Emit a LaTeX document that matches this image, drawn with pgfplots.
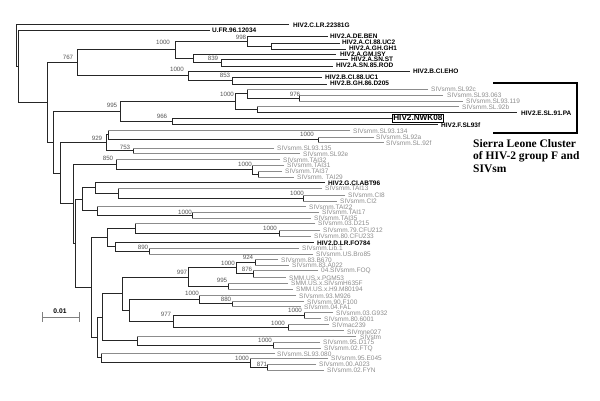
\documentclass[border=0pt]{standalone}
\usepackage{fontspec}
\setmainfont{Liberation Sans}
\newfontfamily\serifbold{Liberation Serif}
\usepackage{pgfplots}
\pgfplotsset{compat=1.18}
\definecolor{sivgray}{HTML}{8C8C8C}
\definecolor{branchblack}{HTML}{262626}
\definecolor{bsgray}{HTML}{555555}
\newcommand{\hlab}[3]{\node[anchor=west,inner sep=0pt,font=\fontsize{6.5}{7}\selectfont\bfseries,text=black] at (axis cs:#1,#2) {#3};}
\newcommand{\slab}[3]{\node[anchor=west,inner sep=0pt,font=\fontsize{6.5}{7}\selectfont,text=sivgray] at (axis cs:#1,#2) {#3};}
\newcommand{\bsl}[3]{\node[anchor=center,inner sep=0pt,font=\fontsize{6.2}{7}\selectfont,text=bsgray] at (axis cs:#1,#2) {#3};}
\begin{document}
\begin{tikzpicture}
\begin{axis}[scale only axis, width=600pt, height=400pt,
  xmin=0, xmax=600, ymin=0, ymax=400, y dir=reverse,
  hide axis, clip=false, unbounded coords=jump]
% internal brackets
\addplot[branchblack, line width=0.8pt] coordinates {
(289,24) (16,24) (16,66.2) (18,66.2) (0,nan)
(210,30) (18,30) (18,102.4) (47,102.4) (0,nan)
(77,62.7) (47,62.7) (47,142.2) (53,142.2) (0,nan)
(175,49.6) (77,49.6) (77,75.75) (188,75.75) (0,nan)
(247,41) (175,41) (175,58.25) (193,58.25) (0,nan)
(328,36) (247,36) (247,46) (271,46) (0,nan)
(340,43) (271,43) (271,49) (346,49) (0,nan)
(336,54) (193,54) (193,62.5) (221,62.5) (0,nan)
(348,59) (221,59) (221,66) (333,66) (0,nan)
(410,71) (188,71) (188,80.5) (232,80.5) (0,nan)
(322,77) (232,77) (232,84) (327,84) (0,nan)
(120,111.1) (53,111.1) (53,173.2) (60,173.2) (0,nan)
(235,101.25) (120,101.25) (120,121) (172,121) (0,nan)
(247,93.5) (235,93.5) (235,109) (257,109) (0,nan)
(428,89) (247,89) (247,98) (299,98) (0,nan)
(443,95) (299,95) (299,101) (463,101) (0,nan)
(459,106) (257,106) (257,112) (517,112) (0,nan)
(392,118) (172,118) (172,124) (438,124) (0,nan)
(106,142.6) (60,142.6) (60,203.7) (73,203.7) (0,nan)
(108,134.75) (106,134.75) (106,150.5) (133,150.5) (0,nan)
(350,130) (108,130) (108,139.5) (318,139.5) (0,nan)
(374,137) (318,137) (318,142) (384,142) (0,nan)
(274,148) (133,148) (133,153) (300,153) (0,nan)
(116,164.25) (73,164.25) (73,243.2) (75,243.2) (0,nan)
(280,159) (116,159) (116,169.5) (252,169.5) (0,nan)
(284,165) (252,165) (252,174) (258,174) (0,nan)
(282,171) (258,171) (258,177) (294,177) (0,nan)
(82,199) (75,199) (75,287.3) (91,287.3) (0,nan)
(95,187.5) (82,187.5) (82,210.5) (97,210.5) (0,nan)
(325,182) (95,182) (95,193) (118,193) (0,nan)
(322,188) (118,188) (118,198) (303,198) (0,nan)
(345,195) (303,195) (303,201) (337,201) (0,nan)
(306,206) (97,206) (97,215) (192,215) (0,nan)
(319,212) (192,212) (192,218) (311,218) (0,nan)
(107,237.25) (91,237.25) (91,337.4) (97,337.4) (0,nan)
(135,228) (107,228) (107,246.5) (115,246.5) (0,nan)
(315,223) (135,223) (135,233) (279,233) (0,nan)
(320,230) (279,230) (279,236) (311,236) (0,nan)
(314,242) (115,242) (115,251) (149,251) (0,nan)
(299,248) (149,248) (149,254) (313,254) (0,nan)
(102,317) (97,317) (97,357.75) (101,357.75) (0,nan)
(122,293.5) (102,293.5) (102,340.5) (137,340.5) (0,nan)
(188,276.9) (122,276.9) (122,310.1) (129,310.1) (0,nan)
(236,267.75) (188,267.75) (188,286) (228,286) (0,nan)
(255,262) (236,262) (236,273.5) (253,273.5) (0,nan)
(278,259) (255,259) (255,265) (289,265) (0,nan)
(318,270) (253,270) (253,277) (286,277) (0,nan)
(288,283) (228,283) (228,289) (293,289) (0,nan)
(199,299.25) (129,299.25) (129,321) (173,321) (0,nan)
(296,295) (199,295) (199,303.5) (232,303.5) (0,nan)
(304,301) (232,301) (232,306) (301,306) (0,nan)
(304,315) (173,315) (173,327) (288,327) (0,nan)
(333,312) (304,312) (304,318) (321,318) (0,nan)
(329,324) (288,324) (288,330) (344,330) (0,nan)
(356,336) (137,336) (137,345) (273,345) (0,nan)
(320,342) (273,342) (273,348) (321,348) (0,nan)
(275,353) (101,353) (101,362.5) (250,362.5) (0,nan)
(328,358) (250,358) (250,367) (267,367) (0,nan)
(316,364) (267,364) (267,370) (324,370)
};
% SIV leaf branches in gray
\addplot[sivgray, line width=0.8pt] coordinates {
(247,89) (428,89) (0,nan)
(299,95) (443,95) (0,nan)
(299,101) (463,101) (0,nan)
(257,106) (459,106) (0,nan)
(108,130) (350,130) (0,nan)
(318,137) (374,137) (0,nan)
(318,142) (384,142) (0,nan)
(133,148) (274,148) (0,nan)
(133,153) (300,153) (0,nan)
(116,159) (280,159) (0,nan)
(252,165) (284,165) (0,nan)
(258,171) (282,171) (0,nan)
(258,177) (294,177) (0,nan)
(118,188) (322,188) (0,nan)
(303,195) (345,195) (0,nan)
(303,201) (337,201) (0,nan)
(97,206) (306,206) (0,nan)
(192,212) (319,212) (0,nan)
(192,218) (311,218) (0,nan)
(135,223) (315,223) (0,nan)
(279,230) (320,230) (0,nan)
(279,236) (311,236) (0,nan)
(149,248) (299,248) (0,nan)
(149,254) (313,254) (0,nan)
(255,259) (278,259) (0,nan)
(255,265) (289,265) (0,nan)
(253,270) (318,270) (0,nan)
(253,277) (286,277) (0,nan)
(228,283) (288,283) (0,nan)
(228,289) (293,289) (0,nan)
(199,295) (296,295) (0,nan)
(232,301) (304,301) (0,nan)
(232,306) (301,306) (0,nan)
(304,312) (333,312) (0,nan)
(304,318) (321,318) (0,nan)
(288,324) (329,324) (0,nan)
(288,330) (344,330) (0,nan)
(137,336) (356,336) (0,nan)
(273,342) (320,342) (0,nan)
(273,348) (321,348) (0,nan)
(101,353) (275,353) (0,nan)
(250,358) (328,358) (0,nan)
(267,364) (316,364) (0,nan)
(267,370) (324,370)
};
% Sierra Leone bracket
\addplot[black, line width=1.6pt] coordinates {(493,83) (577,83) (577,133) (493,133)};
% scale bar
\addplot[gray, line width=0.8pt] coordinates {(42,317) (79,317) (0,nan) (42,312) (42,322) (0,nan) (79,312) (79,322)};
\node[font=\fontsize{6.7}{7}\selectfont\bfseries] at (axis cs:60,311) {0.01};
% labels
\hlab{293}{25}{HIV2.C.LR.22381G}
\hlab{212}{30}{U.FR.96.12034}
\hlab{330}{36}{HIV2.A.DE.BEN}
\hlab{342}{42.5}{HIV2.A.CI.88.UC2}
\hlab{349}{48}{HIV2.A.GH.GH1}
\hlab{340}{54}{HIV2.A.GM.ISY}
\hlab{351}{59.5}{HIV2.A.SN.ST}
\hlab{336}{65.5}{HIV2.A.SN.85.ROD}
\hlab{413}{71}{HIV2.B.CI.EHO}
\hlab{325}{77}{HIV2.B.CI.88.UC1}
\hlab{330}{83}{HIV2.B.GH.86.D205}
\slab{431}{89}{SIVsmm.SL92c}
\slab{447}{95}{SIVsmm.SL93.063}
\slab{466}{101}{SIVsmm.SL93.119}
\slab{462}{107}{SIVsmm.SL.92b}
\hlab{521}{113}{HIV2.E.SL.91.PA}
\node[anchor=west,draw=black,line width=0.6pt,inner sep=1pt,font=\fontsize{8.2}{9}\selectfont\bfseries] at (axis cs:392,118) {HIV2.NWK08};
\hlab{441}{125}{HIV2.F.SL93f}
\slab{353}{131}{SIVsmm.SL93.134}
\slab{376}{137}{SIVsmm.SL92a}
\slab{386}{143}{SIVsmm.SL.92f}
\slab{277}{148}{SIVsmm.SL93.135}
\slab{303}{154}{SIVsmm.SL92e}
\slab{283}{160}{SIVsmm.TAI32}
\slab{287}{165}{SIVsmm.TAI31}
\slab{285}{171}{SIVsmm.TAI37}
\slab{297}{177}{SIVsmm. TAI29}
\hlab{328}{183}{HIV2.G.CI.ABT96}
\slab{325}{188}{SIVsmm.TAI13}
\slab{348}{195}{SIVsmm.CI8}
\slab{340}{201}{SIVsmm.CI2}
\slab{309}{207}{SIVsmm.TAI22}
\slab{322}{212}{SIVsmm.TAI17}
\slab{314}{218}{SIVsmm.TAI35}
\slab{318}{223}{SIVsmm.03.D215}
\slab{323}{230}{SIVsmm.79.CFU212}
\slab{314}{236}{SIVsmm.80.CFU233}
\hlab{317}{243}{HIV2.D.LR.FO784}
\slab{302}{248}{SIVsmm.Lib.1}
\slab{316}{254}{SIVsmm.US.Bro85}
\slab{281}{260}{SIVsmm.83.B670}
\slab{292}{265}{SIVsmm.83.A022}
\slab{321}{271}{04.SIVsmm.FOQ}
\slab{289}{278}{SMM.US.x.PGM53}
\slab{291}{283}{SMM.US.x.SIVsmH635F}
\slab{296}{289}{SMM.US.x.H9.M80194}
\slab{299}{296}{SIVsmm.93.M926}
\slab{307}{302}{SIVsmm.90.F100}
\slab{304}{307}{SIVsmm.04.FAL}
\slab{336}{313}{SIVsmm.03.G932}
\slab{324}{319}{SIVsmm.80.6001}
\slab{332}{325}{SIVmac239}
\slab{347}{332}{SIVmne027}
\slab{360}{337}{SIVstm}
\slab{323}{342}{SIVsmm.95.D175}
\slab{324}{349}{SIVsmm.02.FTQ}
\slab{277}{354}{SIVsmm.SL93.080}
\slab{331}{358}{SIVsmm.95.E045}
\slab{319}{364}{SIVsmm.00.A023}
\slab{327}{370}{SIVsmm.02.FYN}
% bootstrap values
\bsl{68}{57}{767}
\bsl{163}{42}{1000}
\bsl{241}{37}{998}
\bsl{213}{58}{839}
\bsl{177}{69}{1000}
\bsl{225}{75}{853}
\bsl{227}{94}{1000}
\bsl{295}{94}{976}
\bsl{112}{105}{995}
\bsl{162}{116}{966}
\bsl{97}{138}{929}
\bsl{125}{147}{753}
\bsl{307}{134}{1000}
\bsl{108}{158}{850}
\bsl{245}{164}{1000}
\bsl{297}{193}{1000}
\bsl{185}{212}{1000}
\bsl{270}{228}{1000}
\bsl{143}{247}{890}
\bsl{248}{257}{924}
\bsl{228}{263}{1000}
\bsl{247}{269}{876}
\bsl{182}{272}{997}
\bsl{222}{280}{995}
\bsl{192}{293}{1000}
\bsl{226}{299}{880}
\bsl{166}{314}{977}
\bsl{295}{310}{1000}
\bsl{278}{323}{1000}
\bsl{265}{340}{1000}
\bsl{242}{358}{1000}
\bsl{262}{364}{871}
% Sierra Leone text
\node[anchor=west,inner sep=0pt,font=\serifbold\fontsize{11.5}{12}\selectfont\bfseries] at (axis cs:473,144) {Sierra Leone Cluster};
\node[anchor=west,inner sep=0pt,font=\serifbold\fontsize{11.5}{12}\selectfont\bfseries] at (axis cs:473,157) {of HIV-2 group F and};
\node[anchor=west,inner sep=0pt,font=\serifbold\fontsize{11.5}{12}\selectfont\bfseries] at (axis cs:473,169) {SIVsm};
\end{axis}
\pgfresetboundingbox
\useasboundingbox (current axis.south west) rectangle (current axis.north east);
\end{tikzpicture}
\end{document}
